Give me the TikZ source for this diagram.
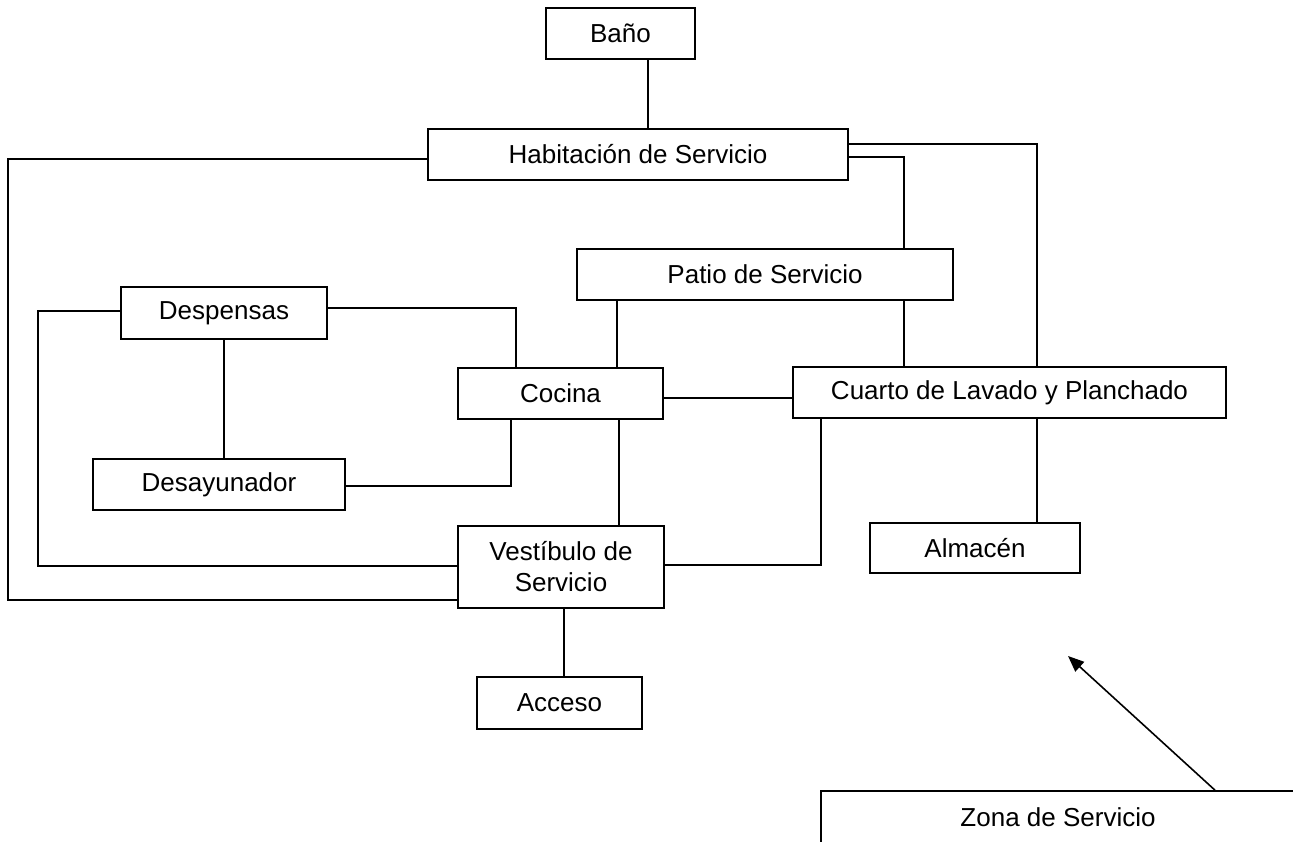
\documentclass[tikz,border=0pt]{standalone}
\usepackage{fontspec}
\setmainfont{Liberation Sans}
\usetikzlibrary{arrows.meta}
\tikzset{
  room/.style={draw, line width=1.6pt, inner sep=0pt, align=center,
    font=\fontsize{26}{31}\selectfont, fill=white},
  link/.style={line width=1.6pt},
}
\begin{document}
\begin{tikzpicture}[x=1pt,y=-1pt]
\useasboundingbox (0,0) rectangle (1293,842);
\clip (0,0) rectangle (1293,842);
\fill[white] (0,0) rectangle (1293,842);
% nodes
\node[room, minimum width=149pt, minimum height=51pt] (bano)   at (620.5,33.5) {Baño};
\node[room, minimum width=420pt, minimum height=51pt] (hab)    at (638,154.5) {Habitación de Servicio};
\node[room, minimum width=376pt, minimum height=51pt] (patio)  at (765,274.5) {Patio de Servicio};
\node[room, minimum width=206pt, minimum height=52pt] (desp)   at (224,313) {Despensas};
\node[room, minimum width=205pt, minimum height=51pt] (cocina) at (560.5,393.5) {Cocina};
\node[room, minimum width=433pt, minimum height=51pt] (cuarto) at (1009.5,392.5) {Cuarto de Lavado y Planchado};
\node[room, minimum width=252pt, minimum height=51pt] (desa)   at (219,484.5) {Desayunador};
\node[room, minimum width=206pt, minimum height=82pt] (vest)   at (561,567) {Vestíbulo de\\Servicio};
\node[room, minimum width=210pt, minimum height=50pt] (alm)    at (975,548) {Almacén};
\node[room, minimum width=165pt, minimum height=52pt] (acc)    at (559.5,703) {Acceso};
\node[room, minimum width=474pt, minimum height=52pt] (zona)   at (1058,817) {Zona de Servicio};
\coordinate (tip) at (1068,656);
% connectors
\draw[link] (bano.south -| 648,0) -- (hab.north -| 648,0);
\draw[link] (hab.west |- 0,159) -- (8,159) -- (8,600) -- (vest.west |- 0,600);
\draw[link] (hab.east |- 0,157) -| (patio.north -| 904,0);
\draw[link] (hab.east |- 0,144) -| (cuarto.north -| 1037,0);
\draw[link] (patio.south -| 617,0) -- (cocina.north -| 617,0);
\draw[link] (patio.south -| 904,0) -- (cuarto.north -| 904,0);
\draw[link] (desp.west |- 0,311) -| (38,566) -- (vest.west |- 0,566);
\draw[link] (desp.east |- 0,308) -| (cocina.north -| 516,0);
\draw[link] (desp.south -| 224,0) -- (desa.north -| 224,0);
\draw[link] (desa.east |- 0,486) -| (cocina.south -| 511,0);
\draw[link] (cocina.east |- 0,398) -- (cuarto.west |- 0,398);
\draw[link] (cocina.south -| 619,0) -- (vest.north -| 619,0);
\draw[link] (vest.east |- 0,565) -| (cuarto.south -| 821,0);
\draw[link] (cuarto.south -| 1037,0) -- (alm.north -| 1037,0);
\draw[link] (vest.south -| 564,0) -- (acc.north -| 564,0);
\draw[link, -{Triangle[length=16pt,width=13pt]}] (zona.north -| 1215,0) -- (tip);
\end{tikzpicture}
\end{document}
